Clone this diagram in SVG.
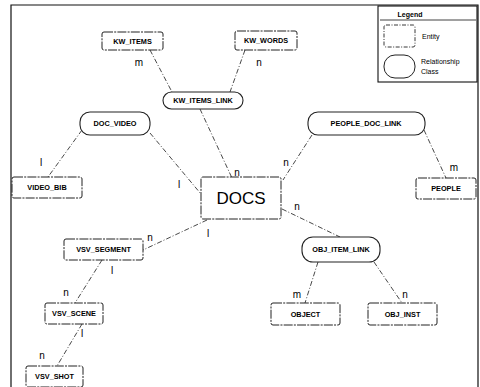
<svg xmlns="http://www.w3.org/2000/svg" width="480" height="387" viewBox="0 0 480 387">
<style>
.ent{fill:#fff;stroke:#222;stroke-width:1;stroke-dasharray:9 1.2 2 1.2}
.rel{fill:#fff;stroke:#222;stroke-width:1.1}
.lbl{font-family:"Liberation Sans",Arial,sans-serif;font-weight:bold;font-size:7.3px;fill:#000;text-anchor:middle;dominant-baseline:central}
.card{font-family:"Liberation Sans",Arial,sans-serif;font-size:10px;fill:#000;text-anchor:middle;dominant-baseline:central}
.conn line{stroke:#333;stroke-width:0.9;stroke-dasharray:5 2 1 2;fill:none}
.frame{fill:none;stroke:#111;stroke-width:1.2}
.leg{font-family:"Liberation Sans",Arial,sans-serif;font-size:7px;fill:#000}
</style>
<rect width="480" height="387" fill="#fff"/>
<path class="frame" d="M11,387 V5 H478 V387"/>
<g id="legend">
<rect x="378" y="6" width="99" height="76" fill="#fff" stroke="#111" stroke-width="1.1"/>
<text class="leg" x="410" y="17" text-anchor="middle" font-weight="bold">Legend</text>
<line x1="380" y1="20" x2="476" y2="20" stroke="#111" stroke-width="0.8"/>
<rect x="384" y="25" width="31" height="22" rx="2" fill="#fff" stroke="#222" stroke-width="0.9" stroke-dasharray="4 1.5 1 1.5"/>
<text class="leg" x="422" y="39" font-size="6">Entity</text>
<rect x="384" y="55" width="31" height="23" rx="11" fill="#fff" stroke="#222" stroke-width="1"/>
<text class="leg" x="421" y="64">Relationship</text>
<text class="leg" x="421" y="74">Class</text>
</g>
<g class="conn" id="connectors">
<line x1="150" y1="50" x2="172" y2="92"/>
<line x1="245" y1="50" x2="230" y2="92"/>
<line x1="200" y1="109" x2="232" y2="178"/>
<line x1="82" y1="130" x2="48" y2="177"/>
<line x1="150" y1="133" x2="201" y2="194"/>
<line x1="312" y1="135" x2="283" y2="180"/>
<line x1="424" y1="130" x2="446" y2="178"/>
<line x1="282" y1="209" x2="340" y2="237"/>
<line x1="318" y1="262" x2="305" y2="303"/>
<line x1="374" y1="262" x2="402" y2="303"/>
<line x1="207" y1="220" x2="143" y2="250"/>
<line x1="102" y1="260" x2="75" y2="303"/>
<line x1="82" y1="324" x2="57" y2="366"/>
</g>
<g id="KW_ITEMS"><rect class="ent" x="102" y="32" width="61" height="18" rx="2"/><text class="lbl" x="132.5" y="41">KW_ITEMS</text></g>
<g id="KW_WORDS"><rect class="ent" x="235" y="31" width="62" height="19" rx="2"/><text class="lbl" x="266" y="40.5">KW_WORDS</text></g>
<g id="KW_ITEMS_LINK"><rect class="rel" x="163" y="92" width="80" height="17" rx="8.5"/><text class="lbl" x="203" y="100.5">KW_ITEMS_LINK</text></g>
<g id="DOC_VIDEO"><rect class="rel" x="80" y="112" width="70" height="23" rx="10"/><text class="lbl" x="115" y="123">DOC_VIDEO</text></g>
<g id="PEOPLE_DOC_LINK"><rect class="rel" x="308" y="112" width="117" height="23" rx="10"/><text class="lbl" x="366" y="123">PEOPLE_DOC_LINK</text></g>
<g id="VIDEO_BIB"><rect class="ent" x="12" y="177" width="70" height="21" rx="2"/><text class="lbl" x="47" y="187.5">VIDEO_BIB</text></g>
<g id="DOCS"><rect class="ent" x="201" y="177" width="80" height="42" rx="2"/><text x="241" y="198" font-family="Liberation Sans,Arial,sans-serif" font-size="17" fill="#000" text-anchor="middle" dominant-baseline="central">DOCS</text></g>
<g id="PEOPLE"><rect class="ent" x="416" y="178" width="60" height="21" rx="2"/><text class="lbl" x="446" y="188.5" font-weight="normal">PEOPLE</text></g>
<g id="OBJ_ITEM_LINK"><rect class="rel" x="302" y="237" width="78" height="25" rx="11"/><text class="lbl" x="341" y="249.5">OBJ_ITEM_LINK</text></g>
<g id="OBJECT"><rect class="ent" x="271" y="303" width="69" height="22" rx="2"/><text class="lbl" x="305.5" y="314">OBJECT</text></g>
<g id="OBJ_INST"><rect class="ent" x="368" y="303" width="69" height="22" rx="2"/><text class="lbl" x="402.5" y="314">OBJ_INST</text></g>
<g id="VSV_SEGMENT"><rect class="ent" x="64" y="239" width="79" height="21" rx="2"/><text class="lbl" x="103.5" y="249.5">VSV_SEGMENT</text></g>
<g id="VSV_SCENE"><rect class="ent" x="45" y="303" width="58" height="21" rx="2"/><text class="lbl" x="74" y="313.5">VSV_SCENE</text></g>
<g id="VSV_SHOT"><rect class="ent" x="26" y="366" width="57" height="21" rx="2"/><text class="lbl" x="54.5" y="376.5">VSV_SHOT</text></g>
<g id="cardinalities">
<text class="card" x="139" y="62">m</text>
<text class="card" x="259" y="62">n</text>
<text class="card" x="237" y="172">n</text>
<text class="card" x="41" y="162">l</text>
<text class="card" x="179" y="184">l</text>
<text class="card" x="286" y="162">n</text>
<text class="card" x="454" y="167">m</text>
<text class="card" x="297" y="206">n</text>
<text class="card" x="297" y="294">m</text>
<text class="card" x="405" y="294">n</text>
<text class="card" x="150" y="237">n</text>
<text class="card" x="208" y="233">l</text>
<text class="card" x="112" y="270">l</text>
<text class="card" x="66" y="292">n</text>
<text class="card" x="82" y="333">l</text>
<text class="card" x="42" y="355">n</text>
</g>
</svg>
